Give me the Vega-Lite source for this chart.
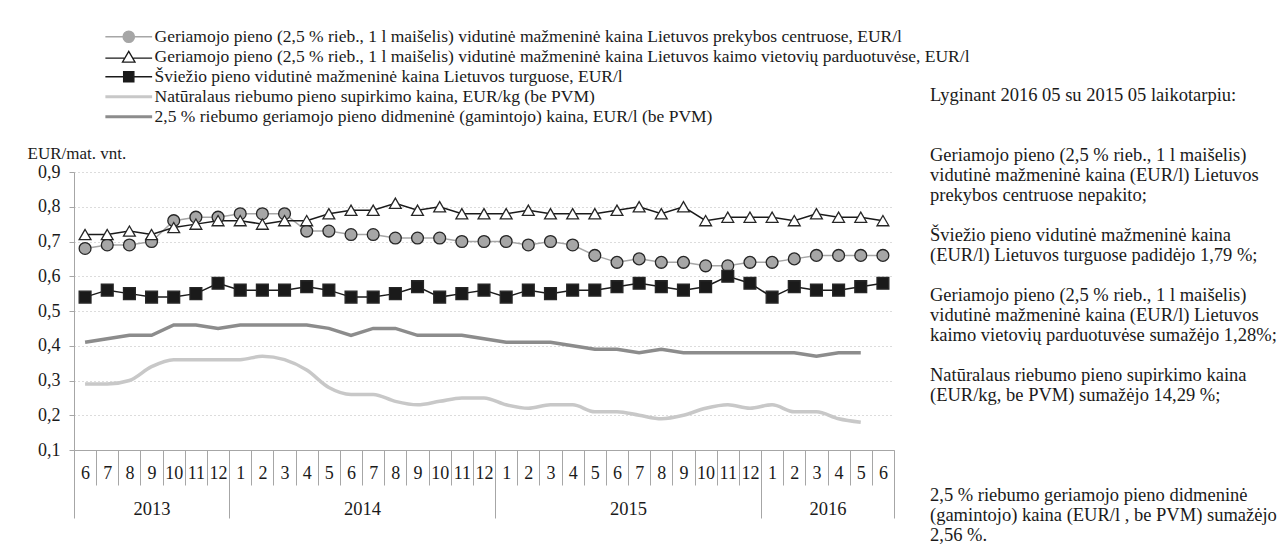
{
  "$schema": "https://vega.github.io/schema/vega-lite/v6.json",
  "autosize": {"type": "none"},
  "padding": {"left": 74, "top": 172, "right": 387, "bottom": 100},
  "width": 820,
  "height": 278,
  "background": "white",
  "config": {
    "view": {"stroke": null},
    "font": "Liberation Serif",
    "axis": {"labelFont": "Liberation Serif", "labelColor": "#1a1a1a", "titleFont": "Liberation Serif", "titleColor": "#1a1a1a"},
    "legend": {"labelFont": "Liberation Serif"}
  },
  "resolve": {"scale": {"x": "independent", "y": "independent"}, "axis": {"x": "independent", "y": "independent"}},
  "layer": [
    {
      "data": {"values": [
        {"m":"2013-06","s":"a","v":0.68},{"m":"2013-07","s":"a","v":0.69},{"m":"2013-08","s":"a","v":0.69},{"m":"2013-09","s":"a","v":0.70},{"m":"2013-10","s":"a","v":0.76},{"m":"2013-11","s":"a","v":0.77},{"m":"2013-12","s":"a","v":0.77},
        {"m":"2014-01","s":"a","v":0.78},{"m":"2014-02","s":"a","v":0.78},{"m":"2014-03","s":"a","v":0.78},{"m":"2014-04","s":"a","v":0.73},{"m":"2014-05","s":"a","v":0.73},{"m":"2014-06","s":"a","v":0.72},{"m":"2014-07","s":"a","v":0.72},{"m":"2014-08","s":"a","v":0.71},{"m":"2014-09","s":"a","v":0.71},{"m":"2014-10","s":"a","v":0.71},{"m":"2014-11","s":"a","v":0.70},{"m":"2014-12","s":"a","v":0.70},
        {"m":"2015-01","s":"a","v":0.70},{"m":"2015-02","s":"a","v":0.69},{"m":"2015-03","s":"a","v":0.70},{"m":"2015-04","s":"a","v":0.69},{"m":"2015-05","s":"a","v":0.66},{"m":"2015-06","s":"a","v":0.64},{"m":"2015-07","s":"a","v":0.65},{"m":"2015-08","s":"a","v":0.64},{"m":"2015-09","s":"a","v":0.64},{"m":"2015-10","s":"a","v":0.63},{"m":"2015-11","s":"a","v":0.63},{"m":"2015-12","s":"a","v":0.64},
        {"m":"2016-01","s":"a","v":0.64},{"m":"2016-02","s":"a","v":0.65},{"m":"2016-03","s":"a","v":0.66},{"m":"2016-04","s":"a","v":0.66},{"m":"2016-05","s":"a","v":0.66},{"m":"2016-06","s":"a","v":0.66},

        {"m":"2013-06","s":"b","v":0.72},{"m":"2013-07","s":"b","v":0.72},{"m":"2013-08","s":"b","v":0.73},{"m":"2013-09","s":"b","v":0.72},{"m":"2013-10","s":"b","v":0.74},{"m":"2013-11","s":"b","v":0.75},{"m":"2013-12","s":"b","v":0.76},
        {"m":"2014-01","s":"b","v":0.76},{"m":"2014-02","s":"b","v":0.75},{"m":"2014-03","s":"b","v":0.76},{"m":"2014-04","s":"b","v":0.76},{"m":"2014-05","s":"b","v":0.78},{"m":"2014-06","s":"b","v":0.79},{"m":"2014-07","s":"b","v":0.79},{"m":"2014-08","s":"b","v":0.81},{"m":"2014-09","s":"b","v":0.79},{"m":"2014-10","s":"b","v":0.80},{"m":"2014-11","s":"b","v":0.78},{"m":"2014-12","s":"b","v":0.78},
        {"m":"2015-01","s":"b","v":0.78},{"m":"2015-02","s":"b","v":0.79},{"m":"2015-03","s":"b","v":0.78},{"m":"2015-04","s":"b","v":0.78},{"m":"2015-05","s":"b","v":0.78},{"m":"2015-06","s":"b","v":0.79},{"m":"2015-07","s":"b","v":0.80},{"m":"2015-08","s":"b","v":0.78},{"m":"2015-09","s":"b","v":0.80},{"m":"2015-10","s":"b","v":0.76},{"m":"2015-11","s":"b","v":0.77},{"m":"2015-12","s":"b","v":0.77},
        {"m":"2016-01","s":"b","v":0.77},{"m":"2016-02","s":"b","v":0.76},{"m":"2016-03","s":"b","v":0.78},{"m":"2016-04","s":"b","v":0.77},{"m":"2016-05","s":"b","v":0.77},{"m":"2016-06","s":"b","v":0.76},

        {"m":"2013-06","s":"c","v":0.54},{"m":"2013-07","s":"c","v":0.56},{"m":"2013-08","s":"c","v":0.55},{"m":"2013-09","s":"c","v":0.54},{"m":"2013-10","s":"c","v":0.54},{"m":"2013-11","s":"c","v":0.55},{"m":"2013-12","s":"c","v":0.58},
        {"m":"2014-01","s":"c","v":0.56},{"m":"2014-02","s":"c","v":0.56},{"m":"2014-03","s":"c","v":0.56},{"m":"2014-04","s":"c","v":0.57},{"m":"2014-05","s":"c","v":0.56},{"m":"2014-06","s":"c","v":0.54},{"m":"2014-07","s":"c","v":0.54},{"m":"2014-08","s":"c","v":0.55},{"m":"2014-09","s":"c","v":0.57},{"m":"2014-10","s":"c","v":0.54},{"m":"2014-11","s":"c","v":0.55},{"m":"2014-12","s":"c","v":0.56},
        {"m":"2015-01","s":"c","v":0.54},{"m":"2015-02","s":"c","v":0.56},{"m":"2015-03","s":"c","v":0.55},{"m":"2015-04","s":"c","v":0.56},{"m":"2015-05","s":"c","v":0.56},{"m":"2015-06","s":"c","v":0.57},{"m":"2015-07","s":"c","v":0.58},{"m":"2015-08","s":"c","v":0.57},{"m":"2015-09","s":"c","v":0.56},{"m":"2015-10","s":"c","v":0.57},{"m":"2015-11","s":"c","v":0.60},{"m":"2015-12","s":"c","v":0.58},
        {"m":"2016-01","s":"c","v":0.54},{"m":"2016-02","s":"c","v":0.57},{"m":"2016-03","s":"c","v":0.56},{"m":"2016-04","s":"c","v":0.56},{"m":"2016-05","s":"c","v":0.57},{"m":"2016-06","s":"c","v":0.58},

        {"m":"2013-06","s":"d","v":0.29},{"m":"2013-07","s":"d","v":0.29},{"m":"2013-08","s":"d","v":0.30},{"m":"2013-09","s":"d","v":0.34},{"m":"2013-10","s":"d","v":0.36},{"m":"2013-11","s":"d","v":0.36},{"m":"2013-12","s":"d","v":0.36},
        {"m":"2014-01","s":"d","v":0.36},{"m":"2014-02","s":"d","v":0.37},{"m":"2014-03","s":"d","v":0.36},{"m":"2014-04","s":"d","v":0.33},{"m":"2014-05","s":"d","v":0.28},{"m":"2014-06","s":"d","v":0.26},{"m":"2014-07","s":"d","v":0.26},{"m":"2014-08","s":"d","v":0.24},{"m":"2014-09","s":"d","v":0.23},{"m":"2014-10","s":"d","v":0.24},{"m":"2014-11","s":"d","v":0.25},{"m":"2014-12","s":"d","v":0.25},
        {"m":"2015-01","s":"d","v":0.23},{"m":"2015-02","s":"d","v":0.22},{"m":"2015-03","s":"d","v":0.23},{"m":"2015-04","s":"d","v":0.23},{"m":"2015-05","s":"d","v":0.21},{"m":"2015-06","s":"d","v":0.21},{"m":"2015-07","s":"d","v":0.20},{"m":"2015-08","s":"d","v":0.19},{"m":"2015-09","s":"d","v":0.20},{"m":"2015-10","s":"d","v":0.22},{"m":"2015-11","s":"d","v":0.23},{"m":"2015-12","s":"d","v":0.22},
        {"m":"2016-01","s":"d","v":0.23},{"m":"2016-02","s":"d","v":0.21},{"m":"2016-03","s":"d","v":0.21},{"m":"2016-04","s":"d","v":0.19},{"m":"2016-05","s":"d","v":0.18},

        {"m":"2013-06","s":"e","v":0.41},{"m":"2013-07","s":"e","v":0.42},{"m":"2013-08","s":"e","v":0.43},{"m":"2013-09","s":"e","v":0.43},{"m":"2013-10","s":"e","v":0.46},{"m":"2013-11","s":"e","v":0.46},{"m":"2013-12","s":"e","v":0.45},
        {"m":"2014-01","s":"e","v":0.46},{"m":"2014-02","s":"e","v":0.46},{"m":"2014-03","s":"e","v":0.46},{"m":"2014-04","s":"e","v":0.46},{"m":"2014-05","s":"e","v":0.45},{"m":"2014-06","s":"e","v":0.43},{"m":"2014-07","s":"e","v":0.45},{"m":"2014-08","s":"e","v":0.45},{"m":"2014-09","s":"e","v":0.43},{"m":"2014-10","s":"e","v":0.43},{"m":"2014-11","s":"e","v":0.43},{"m":"2014-12","s":"e","v":0.42},
        {"m":"2015-01","s":"e","v":0.41},{"m":"2015-02","s":"e","v":0.41},{"m":"2015-03","s":"e","v":0.41},{"m":"2015-04","s":"e","v":0.40},{"m":"2015-05","s":"e","v":0.39},{"m":"2015-06","s":"e","v":0.39},{"m":"2015-07","s":"e","v":0.38},{"m":"2015-08","s":"e","v":0.39},{"m":"2015-09","s":"e","v":0.38},{"m":"2015-10","s":"e","v":0.38},{"m":"2015-11","s":"e","v":0.38},{"m":"2015-12","s":"e","v":0.38},
        {"m":"2016-01","s":"e","v":0.38},{"m":"2016-02","s":"e","v":0.38},{"m":"2016-03","s":"e","v":0.37},{"m":"2016-04","s":"e","v":0.38},{"m":"2016-05","s":"e","v":0.38}
      ]},
      "encoding": {
        "x": {
          "field": "m", "type": "nominal", "bandPosition": 0.5,
          "scale": {"type": "band", "paddingInner": 0, "paddingOuter": 0},
          "axis": {
            "title": null, "tickBand": "extent", "tickSize": 35, "tickColor": "#a6a6a6", "domainColor": "#a6a6a6",
            "labelExpr": "isString(datum.value) && length(datum.value) == 7 ? '' + toNumber(substring(datum.value, 5, 7)) : ''",
            "labelAngle": 0, "labelBaseline": "middle", "labelFont": "Liberation Serif",
            "labelPadding": -12, "labelFontSize": 18, "labelOverlap": false, "labelFlush": false, "grid": false
          }
        },
        "y": {
          "field": "v", "type": "quantitative",
          "scale": {"domain": [0.1, 0.9], "zero": false, "nice": false},
          "axis": {
            "values": [0.1, 0.2, 0.3, 0.4, 0.5, 0.6, 0.7, 0.8, 0.9],
            "labelExpr": "replace(format(datum.value, '.1f'), '.', ',')",
            "labelFont": "Liberation Serif", "labelFontSize": 18, "labelPadding": 9, "tickSize": 5, "tickColor": "#a6a6a6", "domainColor": "#a6a6a6",
            "grid": true, "gridColor": "#b8b8b8", "gridDash": [1, 3], "gridWidth": 1,
            "title": "EUR/mat. vnt.", "titleFont": "Liberation Serif", "titleAngle": 0, "titleX": -47, "titleY": -19, "titleAlign": "left",
            "titleBaseline": "middle", "titleFontWeight": "normal", "titleFontSize": 17
          }
        }
      },
      "layer": [
        {
          "transform": [{"filter": {"field": "s", "oneOf": ["a", "b", "c"]}}],
          "mark": {"type": "line", "strokeWidth": 1.5},
          "encoding": {
            "color": {
              "field": "s", "type": "nominal",
              "scale": {"domain": ["a", "b", "c", "d", "e"], "range": ["#a6a6a6", "#1a1a1a", "#1a1a1a", "#c8c8c8", "#8c8c8c"]},
              "legend": {
                "orient": "none", "legendX": 46, "legendY": -144, "title": null, "padding": 0,
                "labelFont": "Liberation Serif", "labelFontSize": 17.5, "labelColor": "#1a1a1a", "labelLimit": 0, "labelOffset": 17, "rowPadding": 1,
                "symbolSize": 130,
                "labelExpr": "datum.value == 'a' ? 'Geriamojo pieno (2,5 % rieb., 1 l maišelis) vidutinė mažmeninė kaina Lietuvos prekybos centruose, EUR/l' : datum.value == 'b' ? 'Geriamojo pieno (2,5 % rieb., 1 l maišelis) vidutinė mažmeninė kaina Lietuvos kaimo vietovių parduotuvėse, EUR/l' : datum.value == 'c' ? 'Šviežio pieno vidutinė mažmeninė kaina Lietuvos turguose, EUR/l' : datum.value == 'd' ? 'Natūralaus riebumo pieno supirkimo kaina, EUR/kg (be PVM)' : '2,5 % riebumo geriamojo pieno didmeninė (gamintojo) kaina, EUR/l (be PVM)'",
                "encode": {
                  "symbols": {
                    "update": {
                      "shape": {"signal": "datum.value == 'a' ? 'M-4.1,0H-1M1,0H4.1M1,0A1,1,0,1,1,-1,0A1,1,0,1,1,1,0Z' : datum.value == 'b' ? 'M-4.1,0.25H-0.8M0.8,0.25H4.1M0,-0.95L1.1,0.95L-1.1,0.95Z' : datum.value == 'c' ? 'M-4.1,0H-0.9M0.9,0H4.1M-0.9,-0.9H0.9V0.9H-0.9Z' : 'M-4.1,0H4.1'"},
                      "fill": {"signal": "datum.value == 'a' ? '#a6a6a6' : datum.value == 'b' ? '#ffffff' : datum.value == 'c' ? '#1a1a1a' : 'transparent'"},
                      "stroke": {"signal": "datum.value == 'a' ? '#404040' : datum.value == 'b' ? '#1a1a1a' : datum.value == 'c' ? '#1a1a1a' : datum.value == 'd' ? '#c8c8c8' : '#8c8c8c'"},
                      "strokeWidth": {"signal": "datum.value == 'd' || datum.value == 'e' ? 3 : 1.3"},
                      "opacity": {"value": 1}
                    }
                  }
                }
              }
            }
          }
        },
        {
          "transform": [{"filter": {"field": "s", "equal": "e"}}],
          "mark": {"type": "line", "strokeWidth": 3.5},
          "encoding": {"color": {"field": "s", "type": "nominal"}}
        },
        {
          "transform": [{"filter": {"field": "s", "equal": "d"}}],
          "mark": {"type": "line", "strokeWidth": 3.5, "interpolate": "monotone"},
          "encoding": {"color": {"field": "s", "type": "nominal"}}
        },
        {
          "transform": [{"filter": {"field": "s", "oneOf": ["a", "b", "c"]}}],
          "mark": {"type": "point", "filled": true, "opacity": 1, "stroke": "#262626", "strokeWidth": 1.3, "size": 140},
          "encoding": {
            "shape": {"field": "s", "type": "nominal", "scale": {"domain": ["a", "b", "c"], "range": ["circle", "triangle-up", "square"]}, "legend": null},
            "fill": {"field": "s", "type": "nominal", "scale": {"domain": ["a", "b", "c"], "range": ["#a6a6a6", "#ffffff", "#1a1a1a"]}, "legend": null}
          }
        }
      ]
    },
    {
      "data": {"values": [{"b": 0}, {"b": 7}, {"b": 19}, {"b": 31}, {"b": 37}]},
      "mark": {"type": "rule", "strokeOpacity": 0},
      "encoding": {
        "x": {
          "field": "b", "type": "quantitative",
          "scale": {"domain": [0, 37], "nice": false, "zero": false},
          "axis": {
            "orient": "bottom", "title": null, "domain": false, "grid": false,
            "values": [0, 3.5, 7, 13, 19, 25, 31, 34, 37],
            "tickSize": 68, "tickColor": "#a6a6a6",
            "tickOpacity": {"condition": {"test": "indexof([0, 7, 19, 31, 37], datum.value) >= 0", "value": 1}, "value": 0},
            "labelExpr": "datum.value == 3.5 ? '2013' : datum.value == 13 ? '2014' : datum.value == 25 ? '2015' : datum.value == 34 ? '2016' : ''",
            "labelFont": "Liberation Serif", "labelBaseline": "middle", "labelPadding": -10, "labelFontSize": 18.5, "labelFlush": false, "labelOverlap": false
          }
        }
      }
    },
    {
      "data": {"values": [
        {"line": 0, "t": "Lyginant 2016 05 su 2015 05  laikotarpiu:"},
        {"line": 3, "t": "Geriamojo pieno (2,5 % rieb., 1 l maišelis)"},
        {"line": 4, "t": "vidutinė mažmeninė kaina (EUR/l) Lietuvos"},
        {"line": 5, "t": "prekybos centruose nepakito;"},
        {"line": 7, "t": "Šviežio pieno vidutinė mažmeninė kaina"},
        {"line": 8, "t": "(EUR/l) Lietuvos turguose  padidėjo 1,79 %;"},
        {"line": 10, "t": "Geriamojo pieno (2,5 % rieb., 1 l maišelis)"},
        {"line": 11, "t": "vidutinė mažmeninė kaina (EUR/l) Lietuvos"},
        {"line": 12, "t": "kaimo vietovių parduotuvėse sumažėjo 1,28%;"},
        {"line": 14, "t": "Natūralaus riebumo pieno supirkimo kaina"},
        {"line": 15, "t": "(EUR/kg, be PVM) sumažėjo 14,29 %;"},
        {"line": 20, "t": "2,5 % riebumo geriamojo pieno didmeninė"},
        {"line": 21, "t": "(gamintojo) kaina (EUR/l , be PVM) sumažėjo"},
        {"line": 22, "t": "2,56 %."}
      ]},
      "mark": {"type": "text", "align": "left", "baseline": "middle", "fontSize": 18.5, "color": "#1a1a1a", "font": "Liberation Serif"},
      "encoding": {
        "x": {"datum": 0, "type": "quantitative", "scale": {"domain": [0, 1], "range": [856, 1200]}, "axis": null},
        "y": {"field": "line", "type": "quantitative", "scale": {"domain": [0, 22], "range": [-77, 363]}, "axis": null},
        "text": {"field": "t", "type": "nominal"}
      }
    }
  ]
}
